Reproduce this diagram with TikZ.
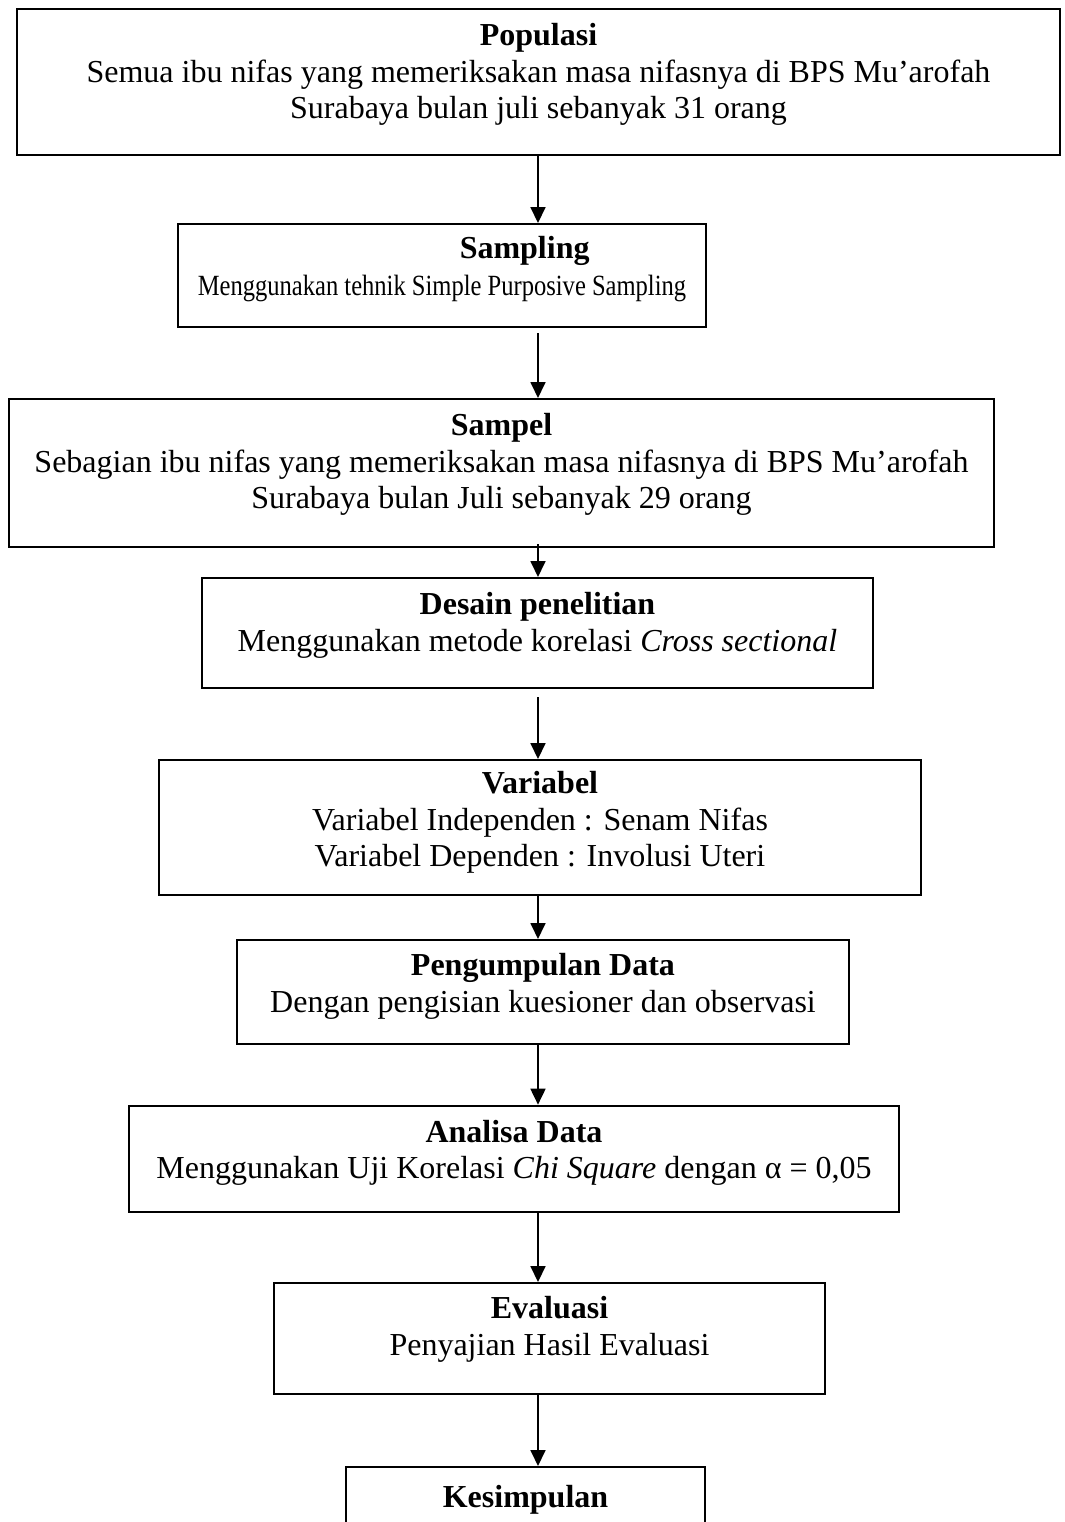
\documentclass[tikz,border=0pt]{standalone}
\usepackage{graphicx}
\usepackage{fontspec}
\setmainfont{Liberation Serif}
\usetikzlibrary{arrows.meta,positioning,calc}

\begin{document}
\begin{tikzpicture}[
        x=0.375pt, y=-0.375pt,
        box/.style={
            draw,
            line width=0.75pt,
            inner sep=0pt
        },
        txt/.style={
            anchor=north,
            align=center,
            inner sep=0pt,
            font=\fontsize{12pt}{13.7pt}\selectfont,
            execute at begin node=\strut
        },
        arrow/.style={-{Triangle[length=6pt,width=5.6pt]}, line width=0.75pt}
    ]
    \useasboundingbox (0,0) rectangle (1065,1522);
    \coordinate (spine) at (538,0);

    % Kotak
    \node[box, minimum width=391.1pt, minimum height=54.75pt] (pop) at (538.5,82) {};
    \node[box, minimum width=198pt, minimum height=38.6pt] (samp) at (442,275.5) {};
    \node[box, minimum width=369.4pt, minimum height=55.5pt] (spl) at (501.5,473) {};
    \node[box, minimum width=251.6pt, minimum height=41.25pt] (des) at (537.5,633) {};
    \node[box, minimum width=285.75pt, minimum height=50.6pt] (var) at (540,827.5) {};
    \node[box, minimum width=229.5pt, minimum height=39pt] (kum) at (543,992) {};
    \node[box, minimum width=288.75pt, minimum height=40pt] (ana) at (514,1159) {};
    \node[box, minimum width=206.6pt, minimum height=41.6pt] (eva) at (549.5,1338.5) {};
    \node[box, minimum width=134.6pt, minimum height=48.75pt] (kes) at (525.5,1532) {};

    % Teks
    \node[txt] (popT) at ($(pop.north)+(0,15)$) {\textbf{Populasi}\\Semua ibu nifas yang memeriksakan masa nifasnya di BPS Mu’arofah\\Surabaya bulan juli sebanyak 31 orang};
    \node[txt] (sampT) at ($(samp.north)+(0,13)$) {\hspace*{62pt}\textbf{Sampling}\\\scalebox{0.837}[1]{\fontsize{11pt}{13.7pt}\selectfont Menggunakan tehnik Simple Purposive Sampling}};
    \node[txt] (splT) at ($(spl.north)+(0,15)$) {\textbf{Sampel}\\Sebagian ibu nifas yang memeriksakan masa nifasnya di BPS Mu’arofah\\Surabaya bulan Juli sebanyak 29 orang};
    \node[txt] (desT) at ($(des.north)+(0,15)$) {\textbf{Desain penelitian}\\Menggunakan metode korelasi \textit{Cross sectional}};
    \node[txt] (varT) at ($(var.north)+(0,12)$) {\textbf{Variabel}\\Variabel Independen : Senam Nifas\\Variabel Dependen : Involusi Uteri};
    \node[txt] (kumT) at ($(kum.north)+(0,14)$) {\textbf{Pengumpulan Data}\\Dengan pengisian kuesioner dan observasi};
    \node[txt] (anaT) at ($(ana.north)+(0,15)$) {\textbf{Analisa Data}\\Menggunakan Uji Korelasi \textit{Chi Square} dengan α = 0,05};
    \node[txt] (evaT) at ($(eva.north)+(0,14)$) {\textbf{Evaluasi}\\Penyajian Hasil Evaluasi};
    \node[txt] (kesT) at ($(kes.north)+(0,15)$) {\textbf{Kesimpulan}};

    % Panah
    \draw[arrow] (pop.south -| spine) -- (samp.north -| spine);
    \draw[arrow] ([yshift=-2pt]samp.south -| spine) -- (spl.north -| spine);
    \draw[arrow] ([yshift=1.5pt]spl.south -| spine) -- (des.north -| spine);
    \draw[arrow] ([yshift=-3pt]des.south -| spine) -- (var.north -| spine);
    \draw[arrow] (var.south -| spine) -- (kum.north -| spine);
    \draw[arrow] (kum.south -| spine) -- (ana.north -| spine);
    \draw[arrow] (ana.south -| spine) -- (eva.north -| spine);
    \draw[arrow] (eva.south -| spine) -- (kes.north -| spine);

\end{tikzpicture}
\end{document}
